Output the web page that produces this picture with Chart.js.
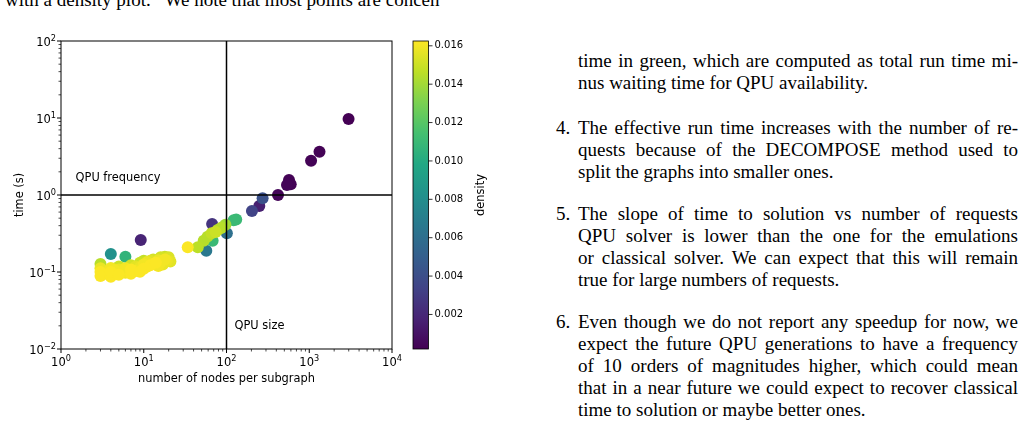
<!DOCTYPE html>
<html>
<head>
<meta charset="utf-8">
<script src="https://cdn.jsdelivr.net/npm/chart.js@4.4.1/dist/chart.umd.min.js"></script>
<style>
  html, body { margin: 0; padding: 0; background: #fff; }
  body { width: 1025px; height: 422px; position: relative; overflow: hidden; }
  #plot { position: absolute; left: 0; top: 0; }
  #cbar { position: absolute; left: 400px; top: 0; }
  .txt { position: absolute; font-family: "Liberation Serif", "Times New Roman", serif; font-size: 19px; line-height: 22px; color: #000; }
  .txt div { white-space: nowrap; }
  .j { text-align: justify; text-align-last: justify; }
  .num { position: absolute; left: -22px; }
</style>
</head>
<body>
<div class="txt" style="left:5px; top:-11px;">with a density plot. &nbsp; We note that most points are concen</div>

<canvas id="plot" width="412" height="422" style="width:412px;height:422px"></canvas>
<canvas id="cbar" width="110" height="422" style="width:110px;height:422px"></canvas>

<div class="txt" style="left:578px; top:50px; width:440px;">
  <div class="j">time in green, which are computed as total run time mi-</div>
  <div>nus waiting time for QPU availability.</div>
</div>
<div class="txt" style="left:578px; top:117px; width:440px;">
  <span class="num">4.</span>
  <div class="j">The effective run time increases with the number of re-</div>
  <div class="j">quests because of the DECOMPOSE method used to</div>
  <div>split the graphs into smaller ones.</div>
</div>
<div class="txt" style="left:578px; top:203px; width:440px;">
  <span class="num">5.</span>
  <div class="j">The slope of time to solution vs number of requests</div>
  <div class="j">QPU solver is lower than the one for the emulations</div>
  <div class="j">or classical solver. We can expect that this will remain</div>
  <div>true for large numbers of requests.</div>
</div>
<div class="txt" style="left:578px; top:311px; width:440px;">
  <span class="num">6.</span>
  <div class="j">Even though we do not report any speedup for now, we</div>
  <div class="j">expect the future QPU generations to have a frequency</div>
  <div class="j">of 10 orders of magnitudes higher, which could mean</div>
  <div class="j">that in a near future we could expect to recover classical</div>
  <div>time to solution or maybe better ones.</div>
</div>

<script>
// number of nodes per subgraph
const nodes = [
    2985, 1330, 1052, 569, 597, 538, 419, 273, 249, 203,
    131, 122, 67, 9.2, 4.0, 6.0, 57, 101, 68, 34,
    45, 53, 59, 66, 78, 89, 97, 74, 85,
    3, 3, 3, 3, 3.5, 4, 4, 4, 4.5, 5, 5, 5, 6, 6, 7, 7, 7, 8, 8, 9, 9, 9,
    10, 10, 10, 11, 11, 12, 12, 13, 13, 14, 15, 15, 16, 16, 17, 18, 18, 19, 20, 21
];
// time (s)
const times = [
    9.7, 3.65, 2.79, 1.57, 1.38, 1.35, 1.0, 0.905, 0.72, 0.62,
    0.48, 0.47, 0.42, 0.26, 0.171, 0.158, 0.189, 0.318, 0.255, 0.209,
    0.209, 0.255, 0.288, 0.318, 0.351, 0.38, 0.41, 0.33, 0.37,
    0.127, 0.112, 0.100, 0.089, 0.095, 0.087, 0.100, 0.113, 0.105, 0.092, 0.108, 0.118, 0.098, 0.112,
    0.095, 0.108, 0.122, 0.103, 0.118, 0.101, 0.115, 0.132, 0.110, 0.125, 0.140, 0.118, 0.135,
    0.122, 0.140, 0.128, 0.145, 0.132, 0.120, 0.142, 0.135, 0.155, 0.125, 0.145, 0.158, 0.140, 0.155, 0.137
];
// density (colour)
const density = [
    0.0002, 0.0003, 0.0003, 0.0003, 0.0003, 0.0004, 0.0004, 0.0042, 0.0016, 0.0034,
    0.0110, 0.0110, 0.0026, 0.0018, 0.0082, 0.0106, 0.0066, 0.0061, 0.0110, 0.0162,
    0.0146, 0.0145, 0.0145, 0.0148, 0.0145, 0.0143, 0.0140, 0.0150, 0.0145,
    0.0145, 0.0158, 0.0162, 0.0162, 0.0160, 0.0162, 0.0162, 0.0160, 0.0160, 0.0162, 0.0158, 0.0150, 0.0160, 0.0160,
    0.0162, 0.0162, 0.0152, 0.0160, 0.0156, 0.0162, 0.0158, 0.0150, 0.0162, 0.0160, 0.0148, 0.0160, 0.0158,
    0.0162, 0.0155, 0.0160, 0.0152, 0.0162, 0.0160, 0.0158, 0.0160, 0.0152, 0.0158, 0.0160, 0.0150, 0.0158, 0.0154, 0.0156
];

// tick labels, written as 10^exponent
const xDecades = [1, 10, 100, 1000, 10000];
const xTickExps = ['0', '1', '2', '3', '4'];
const yDecades = [0.01, 0.1, 1, 10, 100];
const yTickExps = ['\u22122', '\u22121', '0', '1', '2'];
const cbTicks = [0.002, 0.004, 0.006, 0.008, 0.010, 0.012, 0.014, 0.016];
const cbMin = 0.0002, cbMax = 0.01625;

const qpuFrequency = 1;   // s, horizontal line
const qpuSize = 100;      // nodes, vertical line
const freqLabel = { text: 'QPU frequency', x: 1.5, y: 1.5 };
const sizeLabel = { text: 'QPU size', x: 125, y: 0.018 };

const viridis = ['#440154', '#482475', '#414487', '#355f8d', '#2a788e', '#21918c',
                 '#22a884', '#44bf70', '#7ad151', '#bddf26', '#fde725'];

function hex(c) { return [1, 3, 5].map(i => parseInt(c.substr(i, 2), 16)); }

function cmap(v) {
    let t = (v - cbMin) / (cbMax - cbMin);
    t = Math.max(0, Math.min(1, t)) * (viridis.length - 1);
    const i = Math.min(Math.floor(t), viridis.length - 2);
    const f = t - i;
    const a = hex(viridis[i]), b = hex(viridis[i + 1]);
    const c = a.map((x, k) => Math.round(x + (b[k] - x) * f));
    return 'rgb(' + c.join(',') + ')';
}

function logTicks(lo, hi) {
    const out = [];
    for (let e = Math.round(Math.log10(lo)); e <= Math.round(Math.log10(hi)); e++) {
        for (let m = 1; m < 10; m++) {
            const v = m * Math.pow(10, e);
            if (v > hi * 1.0000001) break;
            out.push({ value: v, major: m === 1 });
        }
    }
    return out;
}

// plot densest points last so they sit on top
const order = density.map((d, i) => i).sort((a, b) => density[a] - density[b]);
const points = order.map(i => ({ x: nodes[i], y: times[i] }));
const colors = order.map(i => cmap(density[i]));

const baseSize = 11.5, supSize = 8.2;
const cbTickFont = { family: 'DejaVu Sans', size: 10 };
const labelFont = { family: 'DejaVu Sans', size: 11.4 };

// "10" with a raised exponent, like matplotlib's mathtext labels
function powerLabel(ctx, exp, px, py, align) {
    ctx.font = baseSize + 'px "DejaVu Sans"';
    const w1 = ctx.measureText('10').width;
    ctx.font = supSize + 'px "DejaVu Sans"';
    const w2 = ctx.measureText(exp).width;
    const left = align === 'center' ? px - (w1 + w2) / 2 : px - (w1 + w2);
    ctx.textAlign = 'left';
    ctx.textBaseline = 'alphabetic';
    ctx.font = baseSize + 'px "DejaVu Sans"';
    ctx.fillText('10', left, py);
    ctx.font = supSize + 'px "DejaVu Sans"';
    ctx.fillText(exp, left + w1, py - 5);
}

const decorations = {
    id: 'decorations',
    afterDatasetsDraw(chart) {
        const { ctx, chartArea: a, scales: { x, y } } = chart;
        ctx.save();
        // frame
        ctx.strokeStyle = '#000';
        ctx.lineWidth = 1;
        ctx.strokeRect(a.left, a.top, a.right - a.left, a.bottom - a.top);
        // tick marks
        x.ticks.forEach(t => {
            const p = x.getPixelForValue(t.value);
            ctx.lineWidth = t.major ? 1 : 0.7;
            ctx.beginPath();
            ctx.moveTo(p, a.bottom);
            ctx.lineTo(p, a.bottom + (t.major ? 4 : 2.5));
            ctx.stroke();
        });
        y.ticks.forEach(t => {
            const p = y.getPixelForValue(t.value);
            ctx.lineWidth = t.major ? 1 : 0.7;
            ctx.beginPath();
            ctx.moveTo(a.left, p);
            ctx.lineTo(a.left - (t.major ? 4 : 2.5), p);
            ctx.stroke();
        });
        // tick labels
        ctx.fillStyle = '#000';
        xDecades.forEach((d, i) => powerLabel(ctx, xTickExps[i], x.getPixelForValue(d), a.bottom + 17, 'center'));
        yDecades.forEach((d, i) => powerLabel(ctx, yTickExps[i], a.left - 5, y.getPixelForValue(d) + 4.5, 'right'));
        // annotations
        ctx.font = labelFont.size + 'px "DejaVu Sans"';
        ctx.textAlign = 'left';
        ctx.textBaseline = 'alphabetic';
        [freqLabel, sizeLabel].forEach(l => {
            ctx.fillText(l.text, x.getPixelForValue(l.x), y.getPixelForValue(l.y));
        });
        ctx.restore();
    }
};

new Chart(document.getElementById('plot'), {
    type: 'scatter',
    data: {
        datasets: [
            {
                data: [{ x: 1, y: qpuFrequency }, { x: 10000, y: qpuFrequency }],
                showLine: true, borderColor: '#000', borderWidth: 1.5, pointRadius: 0
            },
            {
                data: [{ x: qpuSize, y: 0.01 }, { x: qpuSize, y: 100 }],
                showLine: true, borderColor: '#000', borderWidth: 1.5, pointRadius: 0
            },
            {
                data: points,
                backgroundColor: colors,
                borderWidth: 0,
                pointRadius: 6
            }
        ]
    },
    options: {
        responsive: false,
        animation: false,
        events: [],
        layout: { padding: { left: 0, top: 41, right: 20, bottom: 0 } },
        plugins: { legend: { display: false }, tooltip: { enabled: false } },
        scales: {
            x: {
                type: 'logarithmic', min: 1, max: 10000,
                afterFit: s => { s.height = 73; s.paddingLeft = 0; s.paddingRight = 0; },
                afterBuildTicks: s => { s.ticks = logTicks(1, 10000); },
                grid: { display: false, drawTicks: false },
                border: { display: false },
                ticks: { display: false },
                title: {
                    display: true, text: 'number of nodes per subgraph', color: '#000', font: labelFont,
                    padding: { top: 0, bottom: 36 }
                }
            },
            y: {
                type: 'logarithmic', min: 0.01, max: 100,
                afterFit: s => { s.width = 61; s.paddingTop = 0; s.paddingBottom = 0; },
                afterBuildTicks: s => { s.ticks = logTicks(0.01, 100); },
                grid: { display: false, drawTicks: false },
                border: { display: false },
                ticks: { display: false },
                title: {
                    display: true, text: 'time (s)', color: '#000', font: labelFont,
                    padding: { top: 13.5, bottom: 0 }
                }
            }
        }
    },
    plugins: [decorations]
});

const colorbar = {
    id: 'colorbar',
    beforeDatasetsDraw(chart) {
        const { ctx, chartArea: a, scales: { y } } = chart;
        ctx.save();
        const g = ctx.createLinearGradient(0, a.bottom, 0, a.top);
        viridis.forEach((c, i) => g.addColorStop(i / (viridis.length - 1), c));
        ctx.fillStyle = g;
        ctx.fillRect(a.left, a.top, a.right - a.left, a.bottom - a.top);
        ctx.strokeStyle = '#000';
        ctx.lineWidth = 0.8;
        ctx.strokeRect(a.left, a.top, a.right - a.left, a.bottom - a.top);
        y.ticks.forEach(t => {
            const p = y.getPixelForValue(t.value);
            ctx.beginPath();
            ctx.moveTo(a.right, p);
            ctx.lineTo(a.right + 4, p);
            ctx.stroke();
        });
        ctx.translate(81, (a.top + a.bottom) / 2);
        ctx.rotate(-Math.PI / 2);
        ctx.fillStyle = '#000';
        ctx.font = labelFont.size + 'px "DejaVu Sans"';
        ctx.textAlign = 'center';
        ctx.textBaseline = 'middle';
        ctx.fillText('density', 0, 0);
        ctx.restore();
    }
};

new Chart(document.getElementById('cbar'), {
    type: 'scatter',
    data: { datasets: [] },
    options: {
        responsive: false,
        animation: false,
        events: [],
        layout: { padding: { left: 13, top: 41, right: 0, bottom: 73 } },
        plugins: { legend: { display: false }, tooltip: { enabled: false } },
        scales: {
            x: { display: false, min: 0, max: 1 },
            y: {
                type: 'linear', position: 'right', min: cbMin, max: cbMax,
                afterFit: s => { s.width = 81.5; s.paddingTop = 0; s.paddingBottom = 0; },
                afterBuildTicks: s => { s.ticks = cbTicks.map(v => ({ value: v })); },
                grid: { display: false, drawTicks: false },
                border: { display: false },
                ticks: {
                    autoSkip: false, padding: 6, color: '#000', font: cbTickFont,
                    callback: v => v.toFixed(3)
                }
            }
        }
    },
    plugins: [colorbar]
});
</script>
</body>
</html>
